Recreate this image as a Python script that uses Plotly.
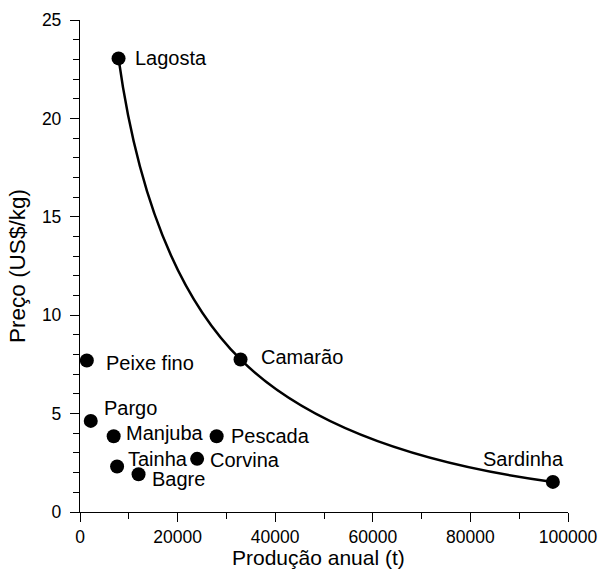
import plotly.graph_objects as go

# Species data
species = ["Lagosta", "Peixe fino", "Camarão", "Pargo", "Manjuba", "Pescada",
           "Tainha", "Corvina", "Bagre", "Sardinha"]
producao = [7900, 1400, 32900, 2200, 6900, 28000, 7600, 24000, 12000, 96900]
preco = [23.05, 7.7, 7.75, 4.63, 3.85, 3.85, 2.31, 2.7, 1.92, 1.53]

# Fitted curve: smooth line through Lagosta, Camarão and Sardinha
curve_x = [7900, 32900, 96900]
curve_y = [23.05, 7.75, 1.53]

x_title = "Produção anual (t)"
y_title = "Preço (US$/kg)"

# Label offsets (pixels) relative to each point
label_style = {
    "Lagosta": (14, 0, "left"),
    "Peixe fino": (17, -3, "left"),
    "Camarão": (18, 2, "left"),
    "Pargo": (11, 13, "left"),
    "Manjuba": (10, 3, "left"),
    "Pescada": (12, 0, "left"),
    "Tainha": (9, 8, "left"),
    "Corvina": (11, -1, "left"),
    "Bagre": (11, -5, "left"),
    "Sardinha": (13, 23, "right"),
}

FONT = "Liberation Sans"

fig = go.Figure()
fig.add_trace(go.Scatter(
    x=curve_x, y=curve_y, mode="lines",
    line=dict(color="black", width=2.5, shape="spline", smoothing=1.3),
    hoverinfo="skip", showlegend=False,
))
fig.add_trace(go.Scatter(
    x=producao, y=preco, mode="markers",
    marker=dict(color="black", size=14),
    text=species, showlegend=False,
))

for name, xv, yv in zip(species, producao, preco):
    dx, dy, anchor = label_style[name]
    fig.add_annotation(
        x=xv, y=yv, text=name, showarrow=False,
        xanchor=anchor, yanchor="middle", xshift=dx, yshift=dy,
        font=dict(family=FONT, size=20, color="black"),
    )

# x-axis title as an annotation below the tick labels
fig.add_annotation(
    x=0.5, y=0, xref="paper", yref="paper", text=x_title, showarrow=False,
    xanchor="center", yanchor="top", xshift=-6, yshift=-33, borderpad=0,
    font=dict(family=FONT, size=21, color="black"),
)

axis_common = dict(
    showline=True, linecolor="black", linewidth=1.3,
    ticks="outside", ticklen=9, tickwidth=1.3, tickcolor="black",
    showgrid=False, zeroline=False, automargin=False,
    tickfont=dict(family=FONT, size=17.5, color="black"),
)

fig.update_xaxes(
    range=[0, 100000], tickvals=[0, 20000, 40000, 60000, 80000, 100000],
    ticktext=["0", "20000", "40000", "60000", "80000", "100000"],
    minor=dict(dtick=10000, ticks="outside", ticklen=6, tickwidth=1.3, tickcolor="black"),
    ticklabelstandoff=0,
    **axis_common,
)
fig.update_yaxes(
    range=[0, 25], tickvals=[0, 5, 10, 15, 20, 25],
    minor=dict(dtick=1, ticks="outside", ticklen=6, tickwidth=1.3, tickcolor="black"),
    ticklabelstandoff=5,
    title=dict(text=y_title, font=dict(family=FONT, size=22.5, color="black"), standoff=10),
    **axis_common,
)

fig.update_layout(
    width=598, height=571,
    margin=dict(l=80, r=30, t=20, b=59),
    plot_bgcolor="white", paper_bgcolor="white",
    showlegend=False,
)

fig.write_html("out.html")
